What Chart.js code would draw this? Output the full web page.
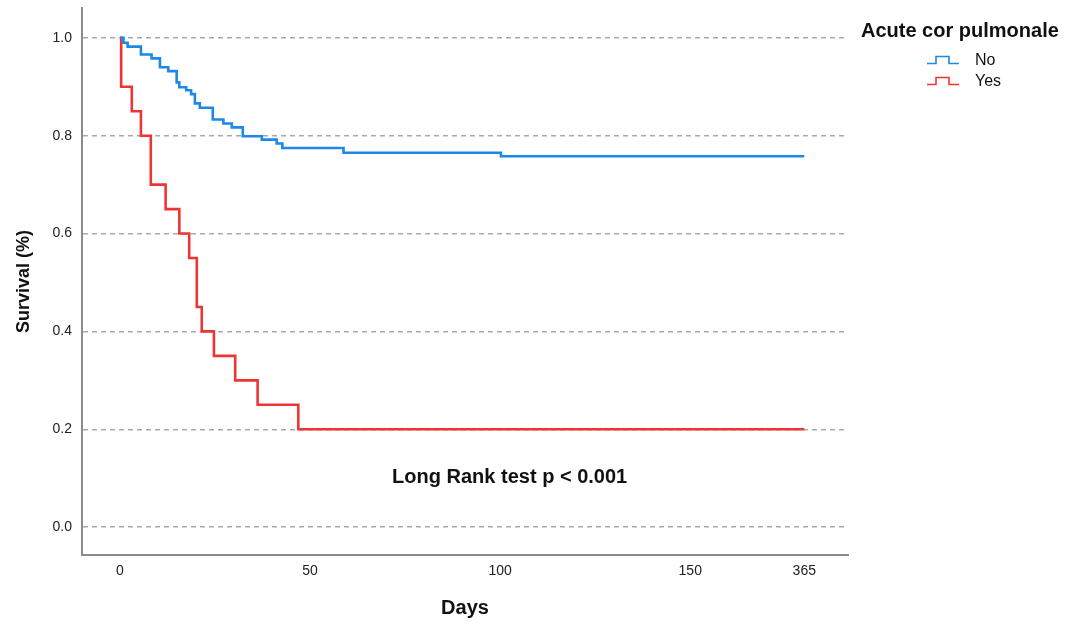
<!DOCTYPE html>
<html>
<head>
<meta charset="utf-8">
<script src="https://cdn.jsdelivr.net/npm/chart.js@4"></script>
<style>
  html, body { margin: 0; padding: 0; background: #fff; }
  #wrap { position: relative; width: 1075px; height: 625px; font-family: "Liberation Sans", Arial, sans-serif; color: #111; }
  #legend-title { position: absolute; left: 861px; top: 19px; font-size: 20px; font-weight: bold; white-space: nowrap; }
  .legend-item { position: absolute; left: 927px; font-size: 16px; white-space: nowrap; display: flex; align-items: center; }
  .legend-item svg { margin-right: 16px; }
  #pvalue { position: absolute; font-size: 20px; font-weight: bold; white-space: nowrap; transform: translate(-50%, -50%); }
</style>
</head>
<body>
<div id="wrap">
  <canvas id="kmChart" width="1075" height="625"></canvas>
  <div id="legend-title">Acute cor pulmonale</div>
  <div id="legend-items"></div>
  <div id="pvalue">Long Rank test p &lt; 0.001</div>
</div>
<script>
// Kaplan-Meier estimates (x in plotted days, value after each step)
const noDays = [0, 0.9, 2.0, 5.5, 8.3, 10.5, 12.7, 14.9, 15.6, 17.4, 18.7, 19.7, 21.0, 24.4, 27.2, 29.4, 32.3, 37.3, 41.2, 42.7, 58.8, 100.2, 180];
const noSurv = [1.0, 0.990, 0.982, 0.966, 0.958, 0.940, 0.932, 0.909, 0.899, 0.893, 0.885, 0.866, 0.857, 0.833, 0.825, 0.817, 0.799, 0.792, 0.784, 0.775, 0.765, 0.758, 0.758];

const yesDays = [0, 0.3, 3.1, 5.5, 8.1, 12.0, 15.6, 18.2, 20.2, 21.5, 24.7, 30.3, 36.2, 46.9, 180];
const yesSurv = [1.0, 0.90, 0.85, 0.80, 0.70, 0.65, 0.60, 0.55, 0.45, 0.40, 0.35, 0.30, 0.25, 0.20, 0.20];

// axis ticks: last tick sits at 180 on the plot but is labelled 365
const xTicks = [0, 50, 100, 150, 180];
const xTickLabels = ["0", "50", "100", "150", "365"];
const yTicks = [0, 0.2, 0.4, 0.6, 0.8, 1.0];

const groupNames = ["No", "Yes"];
const groupColors = ["#1E88E5", "#EE3535"];

const pAnnotation = { x: 102.5, y: 0.104 };

const FONT = "'Liberation Sans', Arial, sans-serif";

function toPoints(days, surv) {
  return days.map((d, i) => ({ x: d, y: surv[i] }));
}

// place the html overlays using the chart's own scales
const overlayPlugin = {
  id: "overlay",
  afterRender(chart) {
    const el = document.getElementById("pvalue");
    el.style.left = chart.scales.x.getPixelForValue(pAnnotation.x) + "px";
    el.style.top = chart.scales.y.getPixelForValue(pAnnotation.y) + "px";
  }
};

function renderLegend() {
  const box = document.getElementById("legend-items");
  box.innerHTML = "";
  groupNames.forEach((name, i) => {
    const item = document.createElement("div");
    item.className = "legend-item";
    item.style.top = (51 + i * 21) + "px";
    item.innerHTML = `
      <svg width="32" height="10" viewBox="0 0 32 10">
        <polyline points="0,8.5 9,8.5 9,1.5 22,1.5 22,8.5 32,8.5" fill="none" stroke="${groupColors[i]}" stroke-width="1.6"/>
      </svg>
      <span>${name}</span>`;
    box.appendChild(item);
  });
}

const ctx = document.getElementById("kmChart").getContext("2d");

new Chart(ctx, {
  type: "line",
  data: {
    datasets: [
      {
        label: groupNames[0],
        data: toPoints(noDays, noSurv),
        borderColor: groupColors[0],
        borderWidth: 2.6,
        stepped: "before",
        pointRadius: 0,
        fill: false
      },
      {
        label: groupNames[1],
        data: toPoints(yesDays, yesSurv),
        borderColor: groupColors[1],
        borderWidth: 2.6,
        stepped: "before",
        pointRadius: 0,
        fill: false
      }
    ]
  },
  options: {
    responsive: false,
    animation: false,
    layout: {
      padding: { top: 8, right: 227, left: 0, bottom: 0 }
    },
    plugins: {
      legend: { display: false },
      tooltip: { enabled: false }
    },
    scales: {
      x: {
        type: "linear",
        min: -10,
        max: 191.5,
        afterFit: (scale) => {
          scale.height = 70;
          scale.paddingLeft = 0;
          scale.paddingRight = 0;
        },
        afterBuildTicks: (scale) => {
          scale.ticks = xTicks.map(v => ({ value: v }));
        },
        grid: { display: false, drawTicks: false },
        border: { display: true, color: "#8a8a8a", width: 2 },
        ticks: {
          color: "#222",
          padding: 8,
          maxRotation: 0,
          autoSkip: false,
          font: { family: FONT, size: 14 },
          callback: (value) => {
            const idx = xTicks.indexOf(value);
            return idx >= 0 ? xTickLabels[idx] : "";
          }
        },
        title: {
          display: true,
          text: "Days",
          color: "#111",
          padding: { top: 4, bottom: 5 },
          font: { family: FONT, size: 20, weight: "bold" }
        }
      },
      y: {
        type: "linear",
        min: -0.057,
        max: 1.061,
        afterFit: (scale) => {
          scale.width = 82;
          // keep tick label overhang from pushing the plot area down
          scale.paddingTop = 0;
          scale.paddingBottom = 0;
        },
        afterBuildTicks: (scale) => {
          scale.ticks = yTicks.map(v => ({ value: v }));
        },
        grid: { color: "#aaaaaa", lineWidth: 1.5, drawTicks: false },
        border: { display: true, color: "#8a8a8a", width: 2, dash: [5, 4] },
        ticks: {
          color: "#222",
          padding: 10,
          font: { family: FONT, size: 14 },
          callback: (value) => value.toFixed(1)
        },
        title: {
          display: true,
          text: "Survival (%)",
          color: "#111",
          padding: { top: 13, bottom: 4 },
          font: { family: FONT, size: 18, weight: "bold" }
        }
      }
    }
  },
  plugins: [overlayPlugin]
});

renderLegend();
</script>
</body>
</html>
